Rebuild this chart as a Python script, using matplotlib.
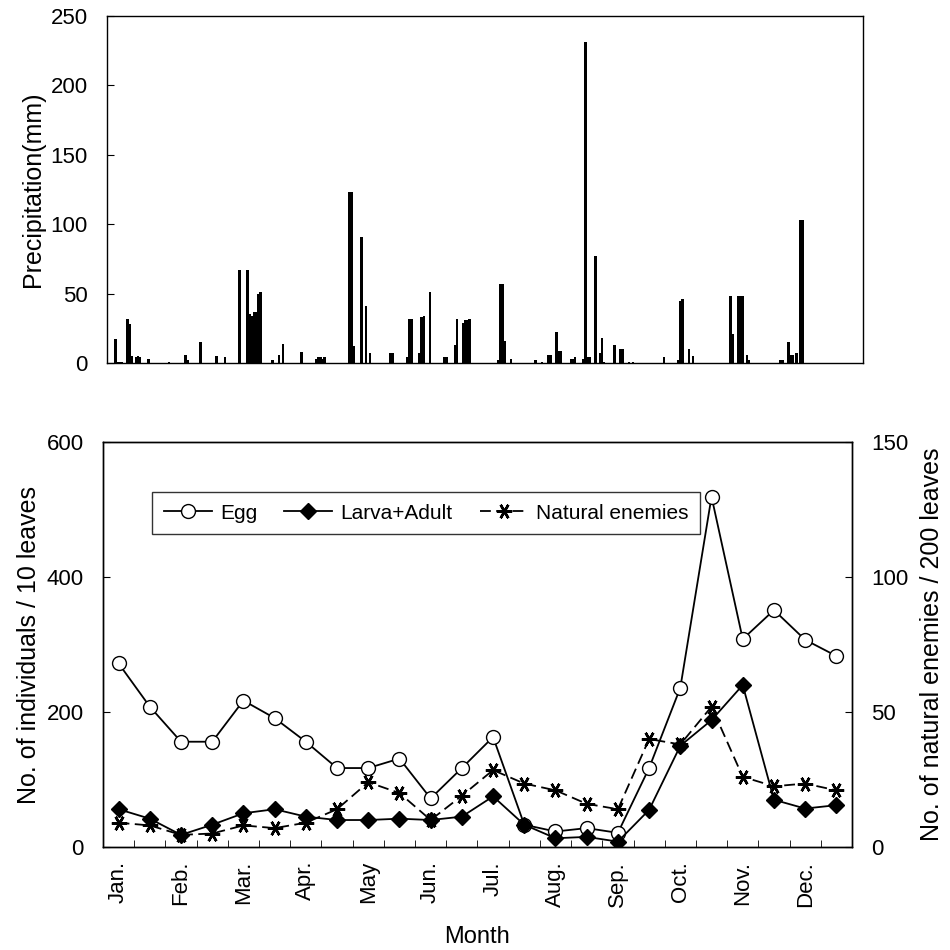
import matplotlib
matplotlib.use("Agg")
import matplotlib.pyplot as plt
from matplotlib.ticker import MultipleLocator

plt.rcParams["font.family"] = ["Liberation Sans", "DejaVu Sans"]

# daily precipitation (day of year, mm)
rain_day = [4, 5, 6, 7, 10, 11, 12, 14, 15, 16, 20, 30, 38, 39, 45, 53, 57,
            64, 68, 69, 70, 71, 72, 73, 74, 80, 83, 85, 94, 101, 102, 103, 104, 105,
            117, 118, 119, 123, 125, 127, 137, 138, 145, 146, 147, 151, 152, 153, 156,
            163, 164, 168, 169, 172, 173, 174, 175, 189, 190, 191, 192, 195,
            207, 210, 213, 214, 217, 218, 219, 224, 225, 226, 230, 231, 232, 233,
            236, 238, 239, 240, 245, 248, 249, 252, 254, 269, 276, 277, 278, 281, 283,
            301, 302, 305, 306, 307, 309, 310, 325, 326, 329, 330, 331, 333, 335, 336]
rain_mm = [17, 1, 1, 1, 32, 28, 5, 4, 5, 4, 3, 1, 6, 2, 15, 5, 4,
           67, 67, 35, 34, 37, 37, 50, 51, 2, 6, 14, 8, 3, 4, 4, 3, 4,
           123, 123, 12, 91, 41, 7, 7, 7, 4, 32, 32, 7, 33, 34, 51,
           4, 4, 13, 32, 29, 31, 31, 32, 2, 57, 57, 16, 3,
           2, 1, 6, 6, 22, 9, 9, 3, 3, 4, 3, 231, 4, 4,
           77, 7, 18, 1, 13, 10, 10, 1, 1, 4, 2, 45, 46, 10, 5,
           48, 21, 48, 48, 48, 6, 2, 2, 2, 15, 6, 6, 7, 103, 103]

# semi-monthly survey
month_labels = ["Jan.", "Feb.", "Mar.", "Apr.", "May", "Jun.",
                "Jul.", "Aug.", "Sep.", "Oct.", "Nov.", "Dec."]
egg = [272, 208, 156, 156, 217, 191, 156, 117, 117, 131, 72, 117,
       163, 33, 23, 28, 21, 117, 236, 519, 308, 351, 307, 283]
larva_adult = [56, 42, 18, 33, 50, 56, 45, 40, 40, 42, 40, 45,
               75, 33, 13, 15, 8, 55, 150, 188, 240, 70, 57, 62]
natural_enemies = [9, 8, 4.5, 5, 8, 7, 9, 14, 24, 20, 10, 19,
                   28.5, 23.5, 21, 16, 14, 40, 38, 52, 26, 22.5, 23.5, 21]

fig = plt.figure(figsize=(9.5, 9.5), dpi=100)

# precipitation panel
ax_top = fig.add_axes([0.1126, 0.6179, 0.7958, 0.3653])
ax_top.bar(rain_day, rain_mm, width=1.3, color="black")
ax_top.set_xlim(0, 365)
ax_top.set_ylim(0, 250)
ax_top.yaxis.set_major_locator(MultipleLocator(50))
ax_top.set_xticks([])
ax_top.tick_params(axis="y", direction="in", length=5, pad=14, labelsize=16)
ax_top.set_ylabel("Precipitation(mm)", fontsize=18, labelpad=4)

# population panel
ax = fig.add_axes([0.1084, 0.1084, 0.7884, 0.4263])
x = list(range(len(egg)))
ax.plot(x, egg, color="black", lw=1.3, marker="o", ms=10,
        mfc="white", mec="black", label="Egg", zorder=3)
ax.plot(x, larva_adult, color="black", lw=1.3, marker="D", ms=8,
        mfc="black", mec="black", label="Larva+Adult", zorder=4)

ax2 = ax.twinx()
ax2.plot(x, natural_enemies, color="black", lw=1.3, ls=(0, (6, 3)),
         marker=(6, 2, 90), ms=11, mew=1.8, label="Natural enemies")
ax2.set_ylim(0, 150)
ax2.yaxis.set_major_locator(MultipleLocator(50))
ax2.tick_params(axis="y", direction="in", length=5, pad=14, labelsize=16)
ax2.set_ylabel("No. of natural enemies / 200 leaves", fontsize=18, labelpad=8)

ax.set_xlim(-0.5, 23.5)
ax.set_ylim(0, 600)
ax.yaxis.set_major_locator(MultipleLocator(200))
ax.set_xticks(range(0, 24, 2))
ax.set_xticklabels(month_labels, rotation=90)
ax.set_xticks([i + 0.5 for i in range(23)], minor=True)
ax.tick_params(axis="x", which="major", length=0, pad=10, labelsize=16)
ax.tick_params(axis="x", which="minor", direction="in", length=5)
ax.tick_params(axis="y", direction="in", length=5, pad=14, labelsize=16)
ax.set_ylabel("No. of individuals / 10 leaves", fontsize=18, labelpad=4)
ax.set_xlabel("Month", fontsize=17, labelpad=14)

h1, l1 = ax.get_legend_handles_labels()
h2, l2 = ax2.get_legend_handles_labels()
leg = ax.legend(h1 + h2, l1 + l2, ncol=3, loc="upper left",
                bbox_to_anchor=(0.052, 0.902), fontsize=15, frameon=True,
                fancybox=False, edgecolor="black", handlelength=2.3,
                handletextpad=0.4, columnspacing=1.3, borderpad=0.55)
leg.get_frame().set_linewidth(1.0)
leg.set_zorder(10)

for a in (ax_top, ax, ax2):
    for s in a.spines.values():
        s.set_linewidth(1.0)

fig.savefig("out.png", dpi=100)
